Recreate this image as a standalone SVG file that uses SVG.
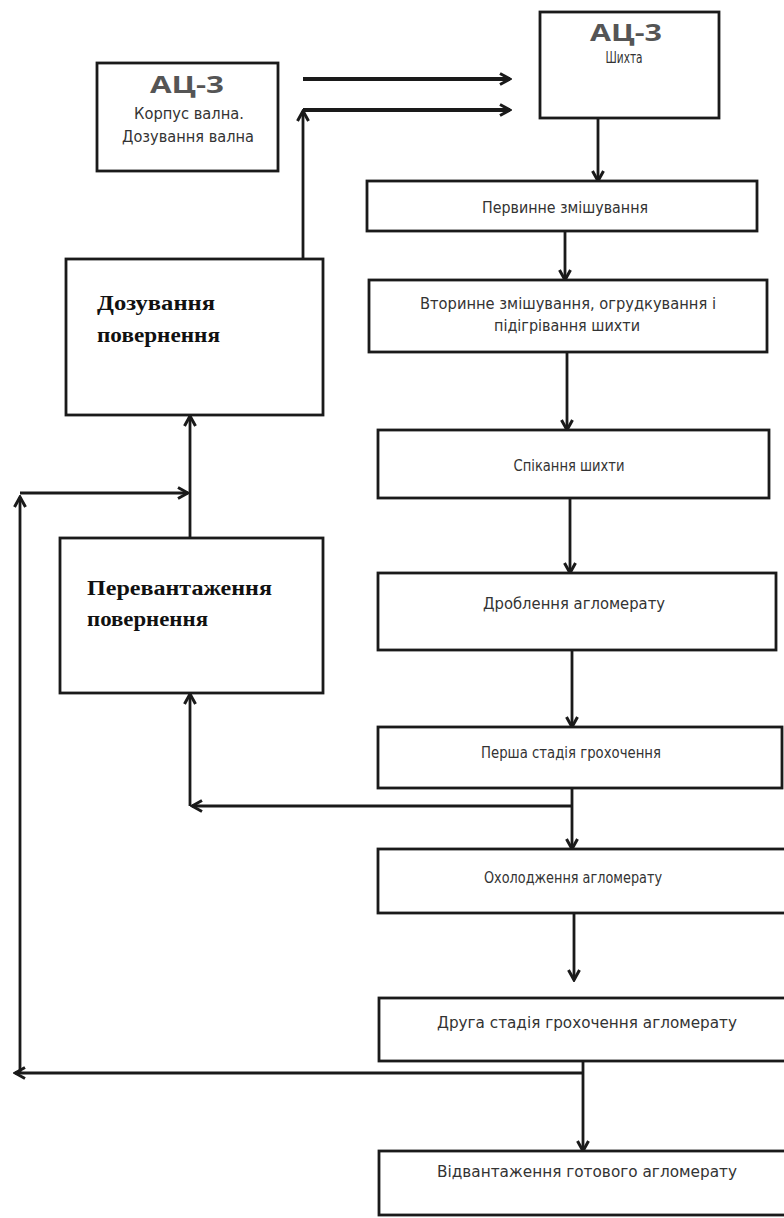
<svg xmlns="http://www.w3.org/2000/svg" width="784" height="1218" viewBox="0 0 784 1218">
<defs>
<style>
.box{fill:#fff;stroke:#1a1a1a;stroke-width:2.8}
.ln{fill:none;stroke:#1a1a1a;stroke-width:2.8}
.thick{stroke-width:3.8}
.g{font-family:"DejaVu Sans Condensed","DejaVu Sans","Liberation Sans",sans-serif;font-size:15px;fill:#333;text-anchor:middle}
.h{font-family:"Open Sans","DejaVu Sans",sans-serif;font-weight:bold;font-size:24px;fill:#555;text-anchor:middle}
.s{font-family:"Liberation Serif","DejaVu Serif",serif;font-weight:bold;font-size:20px;fill:#111}
</style>
<marker id="ah" markerUnits="userSpaceOnUse" markerWidth="14" markerHeight="14" viewBox="0 0 14 14" refX="12" refY="7" orient="auto">
<path d="M2,1.5 L12,7 L2,12.5" fill="none" stroke="#1a1a1a" stroke-width="3"/>
</marker>
</defs>
<rect width="784" height="1218" fill="#fff"/>

<g id="connectors">
<path class="ln thick" d="M303,79 H510" marker-end="url(#ah)"/>
<path class="ln" d="M303,260 V111" marker-end="url(#ah)"/>
<path class="ln thick" d="M303,110 H510" marker-end="url(#ah)"/>
<path class="ln" d="M598,118 V181" marker-end="url(#ah)"/>
<path class="ln" d="M565,231 V280" marker-end="url(#ah)"/>
<path class="ln" d="M567,352 V430" marker-end="url(#ah)"/>
<path class="ln" d="M570,498 V573" marker-end="url(#ah)"/>
<path class="ln" d="M572,650 V727" marker-end="url(#ah)"/>
<path class="ln" d="M572,788 V849" marker-end="url(#ah)"/>
<path class="ln" d="M572,806 H192" marker-end="url(#ah)"/>
<path class="ln" d="M190,806 V694" marker-end="url(#ah)"/>
<path class="ln" d="M574,913 V980" marker-end="url(#ah)"/>
<path class="ln" d="M583,1061 V1151" marker-end="url(#ah)"/>
<path class="ln" d="M583,1073 H15" marker-end="url(#ah)"/>
<path class="ln" d="M20,1073 V497" marker-end="url(#ah)"/>
<path class="ln" d="M20,493 H188" marker-end="url(#ah)"/>
<path class="ln" d="M190,538 V416" marker-end="url(#ah)"/>
</g>

<g id="n-ac3-left">
<rect class="box" x="97" y="63" width="181" height="108"/>
<text class="h" x="187" y="93" textLength="74" lengthAdjust="spacingAndGlyphs">АЦ-3</text>
<text class="g" x="189" y="119" textLength="110" lengthAdjust="spacingAndGlyphs">Корпус вална.</text>
<text class="g" x="188" y="142" textLength="132" lengthAdjust="spacingAndGlyphs">Дозування вална</text>
</g>

<g id="n-ac3-shykhta">
<rect class="box" x="540" y="12" width="179" height="106"/>
<text class="h" x="626" y="41" textLength="72" lengthAdjust="spacingAndGlyphs">АЦ-3</text>
<text class="g" x="624" y="63" font-size="12" textLength="37" lengthAdjust="spacingAndGlyphs">Шихта</text>
</g>

<g id="n-pervynne">
<rect class="box" x="367" y="181" width="390" height="50"/>
<text class="g" x="565" y="213" textLength="166" lengthAdjust="spacingAndGlyphs">Первинне змішування</text>
</g>

<g id="n-vtorynne">
<rect class="box" x="369" y="280" width="398" height="72"/>
<text class="g" x="568" y="309" textLength="296" lengthAdjust="spacingAndGlyphs">Вторинне змішування, огрудкування і</text>
<text class="g" x="567" y="331" textLength="146" lengthAdjust="spacingAndGlyphs">підігрівання шихти</text>
</g>

<g id="n-spikannia">
<rect class="box" x="378" y="430" width="391" height="68"/>
<text class="g" x="569" y="471" textLength="111" lengthAdjust="spacingAndGlyphs">Спікання шихти</text>
</g>

<g id="n-droblennia">
<rect class="box" x="378" y="573" width="398" height="77"/>
<text class="g" x="574" y="609" textLength="182" lengthAdjust="spacingAndGlyphs">Дроблення агломерату</text>
</g>

<g id="n-persha">
<rect class="box" x="378" y="727" width="404" height="61"/>
<text class="g" x="571" y="758" textLength="180" lengthAdjust="spacingAndGlyphs">Перша стадія грохочення</text>
</g>

<g id="n-okholodzhennia">
<rect class="box" x="378" y="849" width="420" height="64"/>
<text class="g" x="573" y="883" textLength="178" lengthAdjust="spacingAndGlyphs">Охолодження агломерату</text>
</g>

<g id="n-druha">
<rect class="box" x="379" y="998" width="420" height="63"/>
<text class="g" x="587" y="1028" textLength="300" lengthAdjust="spacingAndGlyphs">Друга стадія грохочення агломерату</text>
</g>

<g id="n-vidvantazhennia">
<rect class="box" x="379" y="1151" width="420" height="64"/>
<text class="g" x="587" y="1177" textLength="300" lengthAdjust="spacingAndGlyphs">Відвантаження готового агломерату</text>
</g>

<g id="n-dozuvannia">
<rect class="box" x="66" y="259" width="257" height="156"/>
<text class="s" x="97" y="310" textLength="118" lengthAdjust="spacingAndGlyphs">Дозування</text>
<text class="s" x="97" y="342" textLength="123" lengthAdjust="spacingAndGlyphs">повернення</text>
</g>

<g id="n-perevantazhennia">
<rect class="box" x="60" y="538" width="263" height="155"/>
<text class="s" x="87" y="595" textLength="185" lengthAdjust="spacingAndGlyphs">Перевантаження</text>
<text class="s" x="87" y="626" textLength="121" lengthAdjust="spacingAndGlyphs">повернення</text>
</g>
</svg>
